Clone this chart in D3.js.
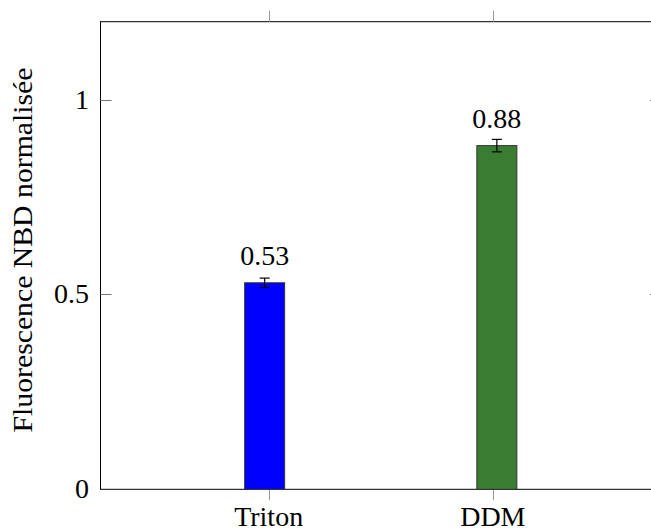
<!DOCTYPE html>
<html>
<head>
<meta charset="utf-8">
<script src="https://cdn.jsdelivr.net/npm/d3@7"></script>
</head>
<body style="margin:0">
<svg id="chart" width="651" height="529" font-family="Liberation Serif">
  <g id="labels" font-family="Liberation Serif" style="font-family:'Liberation Serif', serif">
    <text id="ylabel" font-family="Liberation Serif" font-size="28" text-anchor="middle">Fluorescence NBD normalisée</text>
  </g>
</svg>
<script>
const categories = ["Triton", "DDM"];
const values = [0.53, 0.882];
const errors = [0.012, 0.016];
const valueLabels = ["0.53", "0.88"];
const barColors = ["#0000ff", "#3a7d32"];
const yTicks = [0, 0.5, 1];
const yTickLabels = ["0", "0.5", "1"];
const yLabel = "Fluorescence NBD normalisée";

const pLeft = 100.5, pRight = 661, pTop = 21.7, pBottom = 489.3;
const svg = d3.select("#chart");
const labels = d3.select("#labels");
const FONT = "'Liberation Serif', serif";

const x = d3.scaleLinear().domain([-0.75, 1.75]).range([pLeft, pRight]);
const y = d3.scaleLinear().domain([0, 1.2]).range([pBottom, pTop]);
const barShift = [-4, 4];
const barW = 40;

svg.insert("rect", "#labels").attr("x", pLeft).attr("y", pTop)
  .attr("width", pRight - pLeft).attr("height", pBottom - pTop)
  .attr("fill", "none").attr("stroke", "#000").attr("stroke-width", 1);

const tickLen = 11;
yTicks.forEach((t, i) => {
  const yy = Math.round(y(t)) + 0.5;
  if (t > 0) {
    svg.insert("line", "#labels").attr("x1", pLeft).attr("x2", pLeft + tickLen)
      .attr("y1", yy).attr("y2", yy).attr("stroke", "#777").attr("stroke-width", 1);
    svg.insert("line", "#labels").attr("x1", pRight).attr("x2", pRight - tickLen)
      .attr("y1", yy).attr("y2", yy).attr("stroke", "#777").attr("stroke-width", 1);
  }
  labels.append("text").attr("x", 89).attr("y", y(t) + 9)
    .attr("font-family", "Liberation Serif").style("font-family", FONT).attr("font-size", 28)
    .attr("text-anchor", "end").text(yTickLabels[i]);
});

categories.forEach((c, i) => {
  const xx = Math.round(x(i)) + 0.5;
  svg.insert("line", "#labels").attr("x1", xx).attr("x2", xx)
    .attr("y1", pBottom).attr("y2", pBottom + tickLen).attr("stroke", "#999");
  svg.insert("line", "#labels").attr("x1", xx).attr("x2", xx)
    .attr("y1", pTop).attr("y2", pTop - tickLen).attr("stroke", "#999");
  labels.append("text").attr("x", x(i)).attr("y", 526)
    .attr("font-family", "Liberation Serif").style("font-family", FONT).attr("font-size", 28)
    .attr("text-anchor", "middle").text(c);
});

categories.forEach((c, i) => {
  const cx = x(i) + barShift[i];
  svg.insert("rect", "#labels").attr("x", cx - barW / 2).attr("y", y(values[i]))
    .attr("width", barW).attr("height", y(0) - y(values[i]))
    .attr("fill", barColors[i]).attr("stroke", "#333").attr("stroke-width", 1);
  const y1 = y(values[i] + errors[i]), y2 = y(values[i] - errors[i]);
  const g = svg.insert("g", "#labels").attr("stroke", "#000").attr("stroke-width", 1.2);
  g.append("line").attr("x1", cx).attr("x2", cx).attr("y1", y1).attr("y2", y2);
  g.append("line").attr("x1", cx - 5).attr("x2", cx + 5).attr("y1", y1).attr("y2", y1);
  g.append("line").attr("x1", cx - 5).attr("x2", cx + 5).attr("y1", y2).attr("y2", y2);
  labels.append("text").attr("x", cx).attr("y", y(values[i]) - 18)
    .attr("font-family", "Liberation Serif").style("font-family", FONT).attr("font-size", 28)
    .attr("text-anchor", "middle").text(valueLabels[i]);
});

d3.select("#ylabel")
  .attr("transform", "translate(32, 250) rotate(-90)")
  .attr("textLength", 365).attr("lengthAdjust", "spacingAndGlyphs")
  .text(yLabel);
</script>
</body>
</html>
